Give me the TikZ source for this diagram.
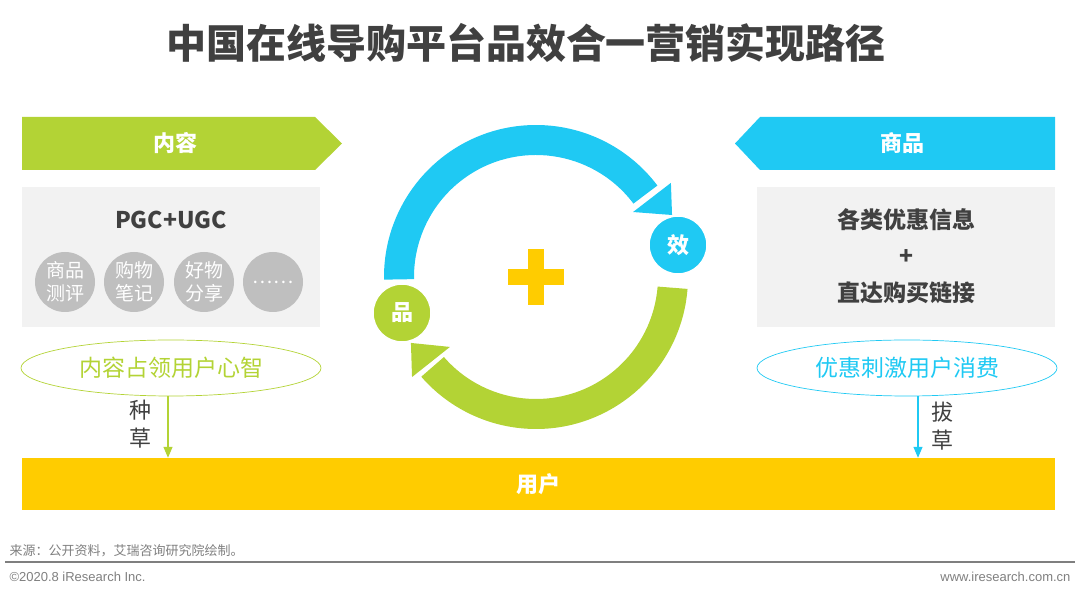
\documentclass[tikz,border=0pt]{standalone}
\usepackage{fontspec}
\setmainfont{Noto Sans CJK SC}
\newfontfamily\latinfont{Liberation Sans}
\usepackage{tikz}
\usetikzlibrary{arrows.meta, calc, positioning, shapes.geometric}
\usepackage{xcolor}
\definecolor{irgreen}{HTML}{B3D335}
\definecolor{irblue}{HTML}{1FC9F3}
\definecolor{iryellow}{HTML}{FFCC00}
\definecolor{panelgray}{HTML}{F2F2F2}
\definecolor{taggray}{HTML}{BFBFBF}
\definecolor{textdark}{HTML}{404040}
\definecolor{footgray}{HTML}{7F7F7F}

\begin{document}
\begin{tikzpicture}[x=1pt, y=1pt,
    banner/.style={text=white, font=\fontsize{22}{26}\selectfont\bfseries},
    panel/.style={rectangle, fill=panelgray, minimum width=298pt, minimum height=140pt, inner sep=0pt},
    tag/.style={circle, fill=taggray, minimum size=60pt, inner sep=0pt, align=center, text=white, font=\fontsize{19}{23}\selectfont},
    goal/.style={ellipse, draw, line width=0.7pt, minimum width=300pt, minimum height=56pt, font=\fontsize{23}{27}\selectfont},
    stage/.style={circle, draw=white, line width=1.5pt, minimum size=58pt, inner sep=0pt, text=white, font=\fontsize{22}{26}\selectfont\bfseries},
    verb/.style={align=center, text=textdark, font=\fontsize{22}{28}\selectfont},
    boxtext/.style={text=textdark, font=\fontsize{23}{27}\selectfont\bfseries},
    arrow/.style={-{Triangle[width=9pt, length=11pt]}, line width=1.2pt}
]
    \useasboundingbox (0,0) rectangle (1080,597);

    % 标题
    \node[text=textdark, font=\fontsize{40}{48}\selectfont\bfseries] (title) at (526,554) {中国在线导购平台品效合一营销实现路径};

    % 左侧：内容
    \fill[irgreen] (22,480) -- (315,480) -- (342,453.5) -- (315,427) -- (22,427) -- cycle;
    \node[banner] (content) at (175,453.5) {内容};
    \node[panel] (cbox) at (171,340) {};
    \node[text=textdark, font=\fontsize{23}{27}\selectfont\bfseries] (pgc) at (171,377) {PGC+UGC};
    \node[tag] (review) at (65,315) {商品\\测评};
    \node[tag] (notes) at (134,315) {购物\\笔记};
    \node[tag] (share) at (204,315) {好物\\分享};
    \node[tag] (more) at (273,315) {……};
    \node[goal, draw=irgreen, text=irgreen] (mind) at (171,229) {内容占领用户心智};

    % 右侧：商品
    \fill[irblue] (1055,480) -- (760,480) -- (735,453.5) -- (760,427) -- (1055,427) -- cycle;
    \node[banner] (goods) at (902,453.5) {商品};
    \node[panel] (gbox) at (906,340) {};
    \node[boxtext] (deal) at (906,377) {各类优惠信息};
    \node[boxtext] (plus) at (906,340) {+};
    \node[boxtext] (link) at (906,304) {直达购买链接};
    \node[goal, draw=irblue, text=irblue] (gain) at (907,229) {优惠刺激用户消费};

    % 用户
    \node[rectangle, fill=iryellow, minimum width=1033pt, minimum height=52pt, text=white, font=\fontsize{22}{26}\selectfont\bfseries] (user) at (538.5,113) {用户};

    % 箭头：种草 / 拔草
    \coordinate (seedx) at (168,0);
    \coordinate (buyx) at (918,0);
    \draw[arrow, irgreen] (mind.south -| seedx) -- (user.north -| seedx);
    \draw[arrow, irblue] (gain.south -| buyx) -- (user.north -| buyx);
    \node[verb] (seed) at (140,173) {种\\草};
    \node[verb] (pull) at (942,171) {拔\\草};

    % 中间：品效循环
    \coordinate (hub) at (536,320);
    \fill[irblue] ($(hub)+(181:152)$) arc[start angle=181, end angle=37, radius=152]
        -- ($(hub)+(37:122)$) arc[start angle=37, end angle=181, radius=122] -- cycle;
    \fill[irblue] ($(hub)+(34.9:164.5)$) -- ($(hub)+(24.5:149.5)$) -- ($(hub)+(33.8:116.8)$) -- cycle;
    \fill[irgreen] ($(hub)+(-4.5:152)$) arc[start angle=-4.5, end angle=-139, radius=152]
        -- ($(hub)+(-139:122)$) arc[start angle=-139, end angle=-4.5, radius=122] -- cycle;
    \fill[irgreen] ($(hub)+(-140.9:110.9)$) -- ($(hub)+(-152.2:141.4)$) -- ($(hub)+(-141.1:159.3)$) -- cycle;
    \fill[iryellow] ($(hub)+(-8,-28)$) rectangle ($(hub)+(8,28)$);
    \fill[iryellow] ($(hub)+(-28,-8)$) rectangle ($(hub)+(28,8)$);
    \node[stage, fill=irblue] (xiao) at (678,352) {效};
    \node[stage, fill=irgreen] (pin) at (402,284) {品};

    % 页脚
    \node[anchor=west, text=footgray, font=\fontsize{13}{15}\selectfont] (source) at (6,46) {来源：公开资料，艾瑞咨询研究院绘制。};
    \draw[footgray, line width=1.5pt] (5,35) -- (1075,35);
    \node[anchor=west, text=footgray, font=\latinfont\fontsize{13}{15}\selectfont] (copy) at (6,20) {©2020.8 iResearch Inc.};
    \node[anchor=east, text=footgray, font=\latinfont\fontsize{13}{15}\selectfont] (site) at (1074,20) {www.iresearch.com.cn};
\end{tikzpicture}
\end{document}
